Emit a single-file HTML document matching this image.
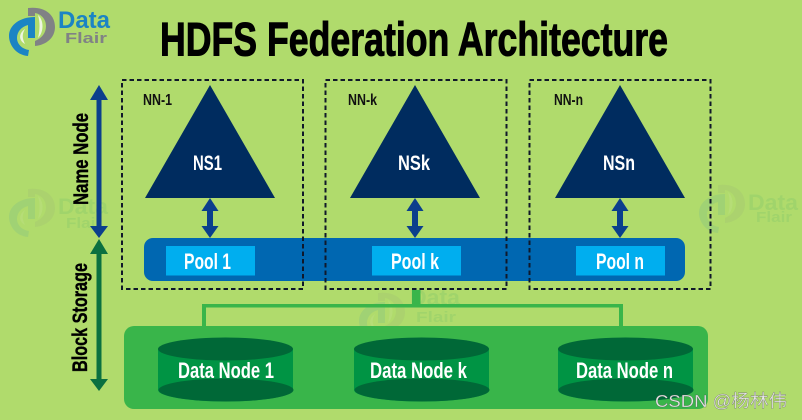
<!DOCTYPE html>
<html>
<head>
<meta charset="utf-8">
<style>
html,body{margin:0;padding:0;width:802px;height:420px;overflow:hidden;background:#b0db6c}
svg{display:block}
text{font-family:"Liberation Sans Narrow","Liberation Sans",sans-serif;font-weight:700}
</style>
</head>
<body>
<svg width="802" height="420" viewBox="0 0 802 420" xmlns="http://www.w3.org/2000/svg">
<defs>
<g id="logo">
  <path d="M28 8 C44 6 55 14 55 27 C55 38 46 45 35 46 L35 41 C42 38 46 33 46 26 C46 19 41 14 35 13 L35 16 L28 16 Z" fill="#808285"/>
  <path d="M35 17 L35 38 L28 38 L28 25 C21 27 17 32 17 38 C17 44 22 49 29 50 L28 56 C16 55 9 45 9 36 C9 25 20 17 35 17 Z" fill="#1b84c4"/>
  <path d="M25 29 C19 33 18 40 25 44 C22 38 22 34 25 29 Z" fill="#eef5e0"/>
  <path d="M38 15 C44 20 44 32 38 38 C40 30 40 22 38 15 Z" fill="#eef5e0"/>
</g>
</defs>

<!-- watermarks -->
<g opacity="0.1">
  <g transform="translate(0,181)">
    <use href="#logo"/>
    <text x="58" y="33" font-size="22" fill="#1b9a6a" textLength="50" lengthAdjust="spacingAndGlyphs">Data</text>
    <text x="66" y="47" font-size="15" fill="#1b9a6a" textLength="36" lengthAdjust="spacingAndGlyphs">Flair</text>
  </g>
  <g transform="translate(690,177)">
    <use href="#logo"/>
    <text x="58" y="33" font-size="22" fill="#1b9a6a" textLength="50" lengthAdjust="spacingAndGlyphs">Data</text>
    <text x="66" y="45" font-size="15" fill="#1b9a6a" textLength="36" lengthAdjust="spacingAndGlyphs">Flair</text>
  </g>
  <g transform="translate(350,285)">
    <use href="#logo"/>
    <text x="60" y="20" font-size="22" fill="#1b9a6a" textLength="50" lengthAdjust="spacingAndGlyphs">Data</text>
    <text x="66" y="37" font-size="15" fill="#1b9a6a" textLength="40" lengthAdjust="spacingAndGlyphs">Flair</text>
  </g>
</g>

<!-- logo -->
<use href="#logo"/>
<text x="58" y="28" font-size="24" fill="#1b84c4" textLength="52" lengthAdjust="spacingAndGlyphs">Data</text>
<text x="65" y="43" font-size="15" fill="#808285" textLength="42" lengthAdjust="spacingAndGlyphs">Flair</text>

<!-- title -->
<text x="160" y="55.500" font-size="47" fill="#000" textLength="508" lengthAdjust="spacingAndGlyphs" stroke="#000" stroke-width="1">HDFS Federation Architecture</text>

<!-- left arrows -->
<rect x="96.500" y="95" width="5" height="136" fill="#0b3f8c"/>
<polygon points="99,85 108,100 90,100" fill="#0b3f8c"/>
<polygon points="90,226 108,226 99,238" fill="#0b3f8c"/>
<rect x="96.500" y="250" width="5" height="132" fill="#0a7040"/>
<polygon points="99,239 108,254 90,254" fill="#0a7040"/>
<polygon points="90,379 108,379 99,391" fill="#0a7040"/>
<text transform="translate(88,205) rotate(-90)" font-size="21.500" fill="#000" stroke="#000" stroke-width="0.4" textLength="92" lengthAdjust="spacingAndGlyphs">Name Node</text>
<text transform="translate(87,372) rotate(-90)" font-size="21" fill="#000" stroke="#000" stroke-width="0.4" textLength="109" lengthAdjust="spacingAndGlyphs">Block Storage</text>

<!-- pool bar -->
<rect x="144" y="238" width="541" height="43" rx="9" fill="#0067b1"/>
<rect x="166" y="246" width="89" height="29.500" fill="#00aeef"/>
<rect x="372" y="246" width="89" height="29.500" fill="#00aeef"/>
<rect x="576" y="246" width="89" height="29.500" fill="#00aeef"/>
<text x="184" y="269" font-size="22" fill="#fff" textLength="47" lengthAdjust="spacingAndGlyphs">Pool 1</text>
<text x="391" y="269" font-size="22" fill="#fff" textLength="48" lengthAdjust="spacingAndGlyphs">Pool k</text>
<text x="596" y="269" font-size="22" fill="#fff" textLength="48" lengthAdjust="spacingAndGlyphs">Pool n</text>

<!-- dashed boxes -->
<g fill="none" stroke="#10182a" stroke-width="2" stroke-dasharray="4.500 3">
  <rect x="122" y="80" width="181" height="209"/>
  <rect x="325.500" y="80" width="181" height="209"/>
  <rect x="529.500" y="80" width="181" height="209"/>
</g>
<text x="143" y="105" font-size="16" fill="#111" textLength="29" lengthAdjust="spacingAndGlyphs">NN-1</text>
<text x="348" y="105" font-size="16" fill="#111" textLength="29" lengthAdjust="spacingAndGlyphs">NN-k</text>
<text x="554" y="105" font-size="16" fill="#111" textLength="29" lengthAdjust="spacingAndGlyphs">NN-n</text>

<!-- triangles -->
<polygon points="210,85 275,198 145,198" fill="#002c5f"/>
<polygon points="415,85 480,198 350,198" fill="#002c5f"/>
<polygon points="620,85 685,198 555,198" fill="#002c5f"/>
<text x="193" y="170" font-size="21" fill="#fff" textLength="29" lengthAdjust="spacingAndGlyphs">NS1</text>
<text x="398" y="170" font-size="21" fill="#fff" textLength="32" lengthAdjust="spacingAndGlyphs">NSk</text>
<text x="603" y="170" font-size="21" fill="#fff" textLength="32" lengthAdjust="spacingAndGlyphs">NSn</text>

<!-- small arrows -->
<g fill="#0b3f8c">
  <g><polygon points="210,198 218.500,211 201.500,211"/><rect x="207" y="210" width="6" height="17"/><polygon points="201.500,226 218.500,226 210,238"/></g>
  <g transform="translate(205,0)"><polygon points="210,198 218.500,211 201.500,211"/><rect x="207" y="210" width="6" height="17"/><polygon points="201.500,226 218.500,226 210,238"/></g>
  <g transform="translate(410,0)"><polygon points="210,198 218.500,211 201.500,211"/><rect x="207" y="210" width="6" height="17"/><polygon points="201.500,226 218.500,226 210,238"/></g>
</g>

<!-- connectors -->
<rect x="412" y="290" width="8.500" height="15" fill="#39b54a"/>
<rect x="202" y="304" width="421" height="3.500" fill="#39b54a"/>
<rect x="202" y="304" width="4" height="23" fill="#39b54a"/>
<rect x="619" y="304" width="4" height="23" fill="#39b54a"/>

<!-- data container -->
<rect x="124" y="326" width="584" height="83" rx="10" fill="#39b54a"/>

<!-- cylinders -->
<g>
  <path d="M158 349 L158 390 A67.500 11.500 0 0 0 293 390 L293 349 Z" fill="#009444"/>
  <ellipse cx="225.500" cy="349" rx="67.500" ry="11.500" fill="#006837"/>
  <ellipse cx="226" cy="390" rx="67.500" ry="11.500" fill="#006837"/>
</g>
<g transform="translate(196,0)">
  <path d="M158 349 L158 390 A67.500 11.500 0 0 0 293 390 L293 349 Z" fill="#009444"/>
  <ellipse cx="225.500" cy="349" rx="67.500" ry="11.500" fill="#006837"/>
  <ellipse cx="226" cy="390" rx="67.500" ry="11.500" fill="#006837"/>
</g>
<g transform="translate(400,0)">
  <path d="M158 349 L158 390 A67.500 11.500 0 0 0 293 390 L293 349 Z" fill="#009444"/>
  <ellipse cx="225.500" cy="349" rx="67.500" ry="11.500" fill="#006837"/>
  <ellipse cx="226" cy="390" rx="67.500" ry="11.500" fill="#006837"/>
</g>
<text x="178" y="378" font-size="22" fill="#fff" textLength="96" lengthAdjust="spacingAndGlyphs">Data Node 1</text>
<text x="370" y="378" font-size="22" fill="#fff" textLength="97" lengthAdjust="spacingAndGlyphs">Data Node k</text>
<text x="576" y="378" font-size="22" fill="#fff" textLength="97" lengthAdjust="spacingAndGlyphs">Data Node n</text>

<!-- CSDN watermark -->
<text x="655" y="407" font-size="17.500" fill="#e8e8e8" stroke="#444" stroke-opacity="0.6" stroke-width="0.4" style="font-family:'Liberation Sans','Noto Sans CJK SC',sans-serif;font-weight:400" textLength="132" lengthAdjust="spacingAndGlyphs">CSDN @杨林伟</text>
</svg>
</body>
</html>
